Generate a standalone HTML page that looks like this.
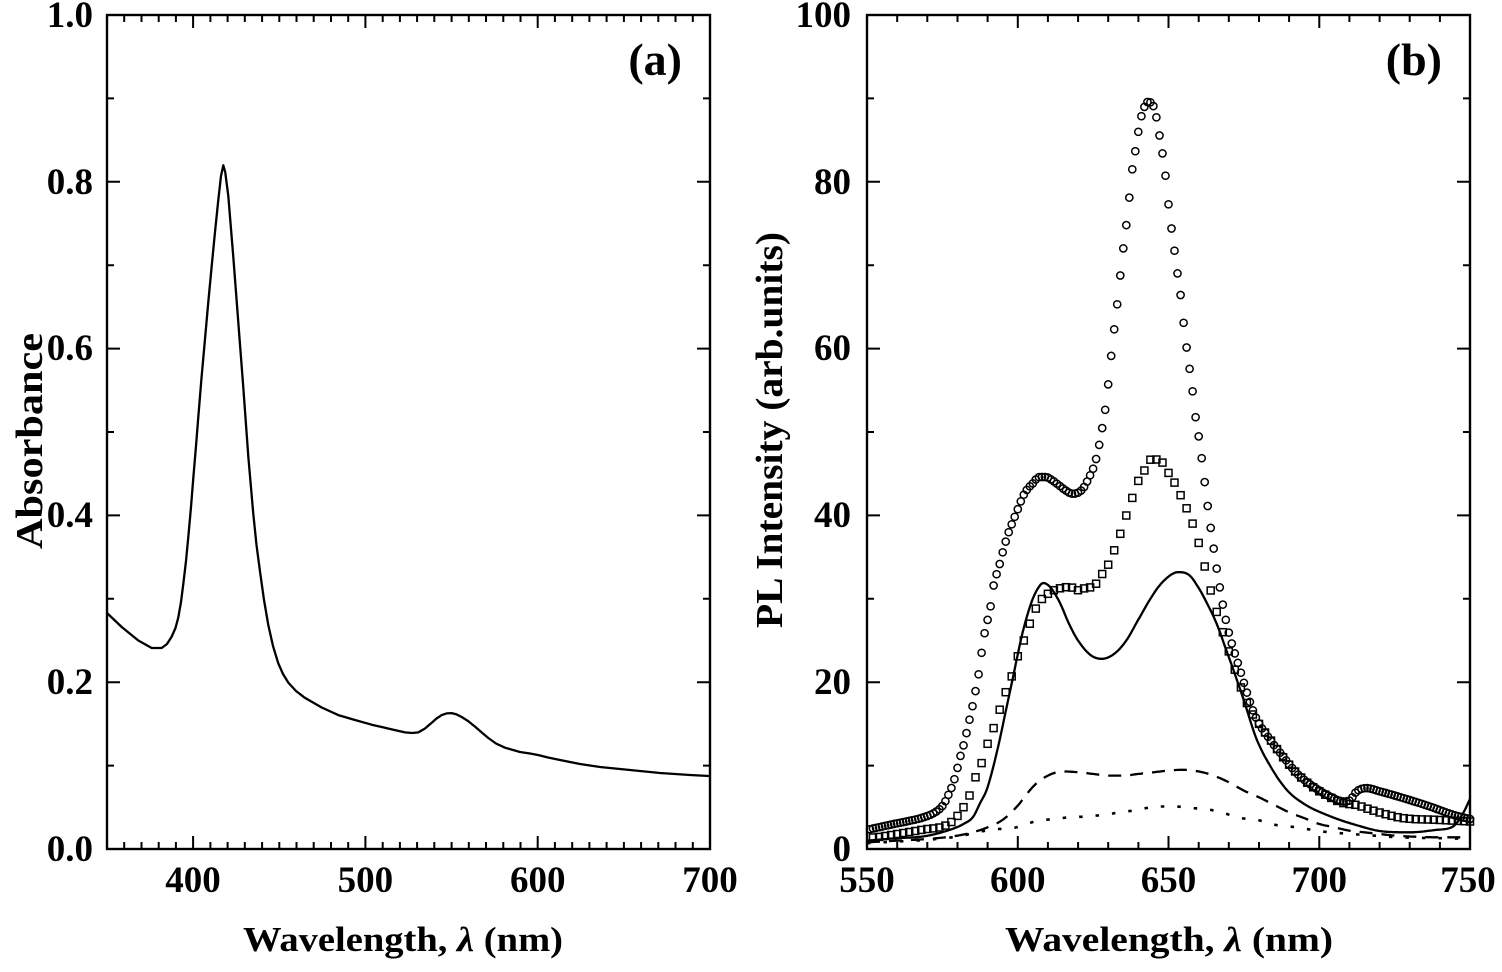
<!DOCTYPE html>
<html>
<head>
<meta charset="utf-8">
<style>
html,body{margin:0;padding:0;background:#fff;}
svg{display:block;}
text{font-family:"Liberation Serif","Times New Roman",serif;font-weight:bold;fill:#000;}
</style>
</head>
<body>
<svg id="svg" width="1502" height="972" viewBox="0 0 1502 972" xmlns="http://www.w3.org/2000/svg">
<rect x="0" y="0" width="1502" height="972" fill="#fff"/>

<!-- ===== Panel (a) ===== -->
<path d="M107,613 L121.7,627 L138.3,640.5 L151.7,648 L161.7,648 L167,644 L171.7,636.6 L175.5,628 L178.3,617.4 L181,602 L183.3,584 L186,561 L188.3,537 L191,507 L193.3,478 L196,446 L198.3,417 L201.5,378 L205,339 L208.3,302 L211.7,266 L215,232 L218.3,200 L221,176 L223.3,165.3 L225.2,172 L228.3,196 L233.3,257 L238.3,322.4 L243.3,387.5 L248.3,456.5 L253.3,514 L256.5,545 L260,571.5 L264,600 L268.3,625 L273,646 L278.3,663.4 L283,674 L288.3,682.6 L296,691 L305,697.9 L321.7,707.5 L338.3,715.1 L355,720 L371.7,724.7 L388,728.5 L405,732.4 L412,733 L418.3,732.4 L425,728.5 L431.7,722.8 L436.5,718.5 L441.7,715.1 L446.5,713.4 L451.7,713.1 L456.5,714.4 L461.7,717 L468,721 L475,726.6 L481.5,732.3 L488.3,738 L496,743.5 L505,747.7 L520,752 L530,753.5 L538,755 L548,757.5 L560,760 L580,764 L600,767 L630,770 L660,773 L690,775 L709,776"
 fill="none" stroke="#000" stroke-width="2.3" stroke-linejoin="round"/>

<rect x="107" y="15" width="603" height="834" fill="none" stroke="#000" stroke-width="2.4"/>
<g stroke="#000" stroke-width="2" fill="none">
<path d="M124.2,849v-7M141.5,849v-7M158.7,849v-7M175.9,849v-7M193.1,849v-13M210.4,849v-7M227.6,849v-7M244.8,849v-7M262.1,849v-7M279.3,849v-7M296.5,849v-7M313.7,849v-7M331,849v-7M348.2,849v-7M365.4,849v-13M382.7,849v-7M399.9,849v-7M417.1,849v-7M434.3,849v-7M451.6,849v-7M468.8,849v-7M486,849v-7M503.3,849v-7M520.5,849v-7M537.7,849v-13M554.9,849v-7M572.2,849v-7M589.4,849v-7M606.6,849v-7M623.9,849v-7M641.1,849v-7M658.3,849v-7M675.5,849v-7M692.8,849v-7"/>
<path d="M124.2,15v7M141.5,15v7M158.7,15v7M175.9,15v7M193.1,15v13M210.4,15v7M227.6,15v7M244.8,15v7M262.1,15v7M279.3,15v7M296.5,15v7M313.7,15v7M331,15v7M348.2,15v7M365.4,15v13M382.7,15v7M399.9,15v7M417.1,15v7M434.3,15v7M451.6,15v7M468.8,15v7M486,15v7M503.3,15v7M520.5,15v7M537.7,15v13M554.9,15v7M572.2,15v7M589.4,15v7M606.6,15v7M623.9,15v7M641.1,15v7M658.3,15v7M675.5,15v7M692.8,15v7"/>
<path d="M107,765.6h7M107,682.2h13M107,598.8h7M107,515.4h13M107,432h7M107,348.6h13M107,265.2h7M107,181.8h13M107,98.4h7"/>
<path d="M710,765.6h-7M710,682.2h-13M710,598.8h-7M710,515.4h-13M710,432h-7M710,348.6h-13M710,265.2h-7M710,181.8h-13M710,98.4h-7"/>
</g>

<g font-size="37" text-anchor="end">
<text x="93" y="861">0.0</text>
<text x="93" y="694">0.2</text>
<text x="93" y="527">0.4</text>
<text x="93" y="360">0.6</text>
<text x="93" y="194">0.8</text>
<text x="93" y="27">1.0</text>
</g>
<g font-size="37" text-anchor="middle">
<text x="193" y="892">400</text>
<text x="365.4" y="892">500</text>
<text x="537.7" y="892">600</text>
<text x="710" y="892">700</text>
</g>
<text x="682" y="75" font-size="46" text-anchor="end">(a)</text>
<text x="243" y="951" font-size="35" textLength="320" lengthAdjust="spacingAndGlyphs">Wavelength, <tspan font-style="italic">λ</tspan> (nm)</text>
<text transform="translate(42,441) rotate(-90)" font-size="38" text-anchor="middle" textLength="216" lengthAdjust="spacingAndGlyphs">Absorbance</text>

<!-- ===== Panel (b) ===== -->
<g id="pb"></g>
<rect x="867" y="15" width="603" height="834" fill="none" stroke="#000" stroke-width="2.4"/>
<g stroke="#000" stroke-width="2" fill="none">
<path d="M897.2,849v-7M927.3,849v-7M957.5,849v-7M987.6,849v-7M1017.8,849v-13M1047.9,849v-7M1078.1,849v-7M1108.2,849v-7M1138.4,849v-7M1168.5,849v-13M1198.7,849v-7M1228.8,849v-7M1259,849v-7M1289.1,849v-7M1319.3,849v-13M1349.4,849v-7M1379.6,849v-7M1409.7,849v-7M1439.9,849v-7"/>
<path d="M897.2,15v7M927.3,15v7M957.5,15v7M987.6,15v7M1017.8,15v13M1047.9,15v7M1078.1,15v7M1108.2,15v7M1138.4,15v7M1168.5,15v13M1198.7,15v7M1228.8,15v7M1259,15v7M1289.1,15v7M1319.3,15v13M1349.4,15v7M1379.6,15v7M1409.7,15v7M1439.9,15v7"/>
<path d="M867,765.6h7M867,682.2h13M867,598.8h7M867,515.4h13M867,432h7M867,348.6h13M867,265.2h7M867,181.8h13M867,98.4h7"/>
<path d="M1470,765.6h-7M1470,682.2h-13M1470,598.8h-7M1470,515.4h-13M1470,432h-7M1470,348.6h-13M1470,265.2h-7M1470,181.8h-13M1470,98.4h-7"/>
</g>
<g font-size="37" text-anchor="end">
<text x="851" y="861">0</text>
<text x="851" y="694">20</text>
<text x="851" y="527">40</text>
<text x="851" y="360">60</text>
<text x="851" y="194">80</text>
<text x="851" y="27">100</text>
</g>
<g font-size="37" text-anchor="middle">
<text x="867" y="892">550</text>
<text x="1017.8" y="892">600</text>
<text x="1168.5" y="892">650</text>
<text x="1319.3" y="892">700</text>
<text x="1468" y="892">750</text>
</g>
<text x="1442" y="75" font-size="46" text-anchor="end">(b)</text>
<text x="1005" y="951" font-size="35" textLength="328" lengthAdjust="spacingAndGlyphs">Wavelength, <tspan font-style="italic">λ</tspan> (nm)</text>
<text transform="translate(782,430) rotate(-90)" font-size="38" text-anchor="middle" textLength="396" lengthAdjust="spacingAndGlyphs">PL Intensity (arb.units)</text>
</svg>

<script>
(function(){
var NS='http://www.w3.org/2000/svg', g=document.getElementById('pb');
function X(n){return 867+(n-550)*3.015;}
function Y(v){return 849-v*8.34;}
function mono(p){
  var xs=[],ys=[],i;
  for(i=0;i<p.length;i+=2){xs.push(p[i]);ys.push(p[i+1]);}
  var n=xs.length,d=[],m=[];
  for(i=0;i<n-1;i++)d.push((ys[i+1]-ys[i])/(xs[i+1]-xs[i]));
  m[0]=d[0];m[n-1]=d[n-2];
  for(i=1;i<n-1;i++){ if(d[i-1]*d[i]<=0)m[i]=0; else m[i]=(d[i-1]+d[i])/2; }
  for(i=0;i<n-1;i++){
    if(d[i]===0){m[i]=0;m[i+1]=0;continue;}
    var a=m[i]/d[i],b=m[i+1]/d[i],s=a*a+b*b;
    if(s>9){var t=3/Math.sqrt(s);m[i]=t*a*d[i];m[i+1]=t*b*d[i];}
  }
  return function(x){
    if(x<=xs[0])return ys[0]; if(x>=xs[n-1])return ys[n-1];
    var j=0; while(x>xs[j+1])j++;
    var h=xs[j+1]-xs[j],t=(x-xs[j])/h,t2=t*t,t3=t2*t;
    return (2*t3-3*t2+1)*ys[j]+(t3-2*t2+t)*h*m[j]+(-2*t3+3*t2)*ys[j+1]+(t3-t2)*h*m[j+1];
  };
}
function el(tag,attrs){var e=document.createElementNS(NS,tag);for(var k in attrs)e.setAttribute(k,attrs[k]);g.appendChild(e);return e;}
function line(p,attrs){
  var f=mono(p),d='';
  for(var n=550;n<=750.001;n+=0.5){d+=(d?'L':'M')+X(n).toFixed(1)+','+Y(f(n)).toFixed(1);}
  attrs.d=d;attrs.fill='none';attrs.stroke='#000';
  el('path',attrs);
}

var solid=[550,1.0,560,1.3,568.6,1.5,577.5,2.3,582,3,585.3,3.9,587.5,5.5,589.7,7.1,592,10,594,13.1,596,16.5,598.5,20.7,601.3,25.5,604,29,606,30.8,608.5,31.9,611,31.3,614,29.5,617,27,620,25,624,23.3,627.8,22.8,632,23.4,636,25,640,27.5,644,30,648,32,653.3,33.2,657,32.8,660,31.3,663,29.3,666,27,669,24,672,21,675,17.8,679.3,13.1,684,9.8,689.2,7.1,695,5.4,702.4,4.1,712,2.9,721.3,2.1,730,2.0,739,2.3,744.4,2.7,747.7,4.3,750,6];

var dashed=[550,0.8,560,1.0,570,1.2,580,1.6,585,2,590,2.6,595,3.5,600,5.2,603,6.6,606,7.8,610,8.8,615,9.3,620,9.2,625,9.0,630,8.8,635,8.8,640,9.0,645,9.2,650,9.4,655,9.5,660,9.3,665,8.8,670,8,675,7,680,6.2,685,5.3,690,4.4,695,3.7,700,3.0,705,2.6,710,2.2,715,2.0,720,1.8,725,1.6,730,1.5,740,1.4,747,1.4,750,1.6];

var dotted=[550,0.7,560,0.9,570,1.1,580,1.5,590.8,2.3,599.6,2.6,605.7,3.3,611.8,3.6,617.3,3.8,622.9,3.9,628.4,4.1,634,4.4,640,4.7,646,5.1,651.6,5.1,658.3,4.9,663.8,4.7,669.3,4.2,674.3,3.7,679.3,3.5,685.3,2.9,690.3,2.7,695.8,2.4,701,2.1,714.5,1.7,726.8,1.4,740,1.3,750,1.2];

var circ=[550,2.3,557.6,2.9,563,3.3,568.7,3.8,573,4.5,575.3,5.3,577,6.5,578.6,7.9,579.7,9.3,580.8,10.9,582.2,12.7,584,15.5,585.5,18,587.5,22.1,588.5,24.9,589.9,27.3,591.2,29.5,592,31.6,593.3,33.3,594.4,34.7,595.3,36,596.3,37.2,597.2,38.2,598.3,39.2,599.4,40.2,600.5,41.2,601.6,42.2,603.3,43.2,604.9,43.8,607.1,44.6,609.3,44.6,611.5,44.2,613.7,43.6,615.9,43,618.1,42.6,620.4,42.8,622,43.4,623.7,44.6,625,45.6,626.5,47.5,627.5,49.5,628.5,51.5,629.5,54,630.5,57.5,631.5,60.7,632.5,63.9,633.4,66.5,634.2,69.5,635.2,72.6,636.3,75.7,637.2,78.8,638,81.5,639.2,84.1,640,86,641.1,88,643.3,89.6,645.5,88.6,646.3,87.1,647.2,85.1,648.3,82.7,649.2,80.1,650,77.3,651,74.4,652.2,71.2,653.3,68.2,654.4,65.3,655.2,62.4,656.2,59.6,657.3,56.8,658.2,54.3,659.1,51.5,660.2,49,663.8,39,668.7,28,673.7,21.5,678.7,16,683.7,13.1,688,11.1,692.5,9.1,698,7.5,703.6,6.3,708,5.7,710,5.8,712.4,6.9,715.7,7.3,720.2,6.9,727.9,6.1,736.7,5.1,744.4,4.1,750,3.6];

var sq=[550,1.3,555,1.5,560,1.8,565,2.1,570,2.4,574.2,2.6,577.5,3.1,580.3,4.1,582.3,5.2,584.2,6.6,585.8,8.4,588,10.3,589.7,12.3,592,14.5,594,16.7,596,18.8,598,20.7,600,23.1,602.1,25.1,604.3,27.3,606.1,28.9,608.3,30.1,610.4,30.7,612.4,31.1,614.6,31.3,616.5,31.4,618.5,31.3,620.4,31,622.4,31.3,624.4,31.4,626.2,31.9,628.2,33.1,630.3,34.3,632.3,36.1,634.2,38,636.1,40.1,638.3,42.4,640.2,44.3,642.2,45.5,644.2,46.7,646.3,46.7,648.3,46.2,650.3,44.9,652.2,43.8,654.4,42.1,656.3,40.6,658.3,38.7,660,36.7,664,31,668,26,672,21.5,676,17.5,680,15,684,13,688,11,692.5,9.1,698,7.4,703.6,6.2,708,5.5,712,5.3,718.8,4.5,727.9,3.7,739,3.5,750,3.3];

line(dotted,{'stroke-width':2.6,'stroke-dasharray':'3.5,13'});
line(dashed,{'stroke-width':2.3,'stroke-dasharray':'13,9'});
line(solid,{'stroke-width':2.3,'stroke-linejoin':'round'});

var fc=mono(circ),n;
for(n=551;n<=750;n+=1){
  el('circle',{cx:X(n).toFixed(1),cy:Y(fc(n)).toFixed(1),r:3.6,fill:'none',stroke:'#000','stroke-width':1.5});
}
var fs=mono(sq);
for(n=552;n<=750;n+=2){
  el('rect',{x:(X(n)-3.5).toFixed(1),y:(Y(fs(n))-3.5).toFixed(1),width:7,height:7,fill:'none',stroke:'#000','stroke-width':1.5});
}
})();
</script>
</body>
</html>
